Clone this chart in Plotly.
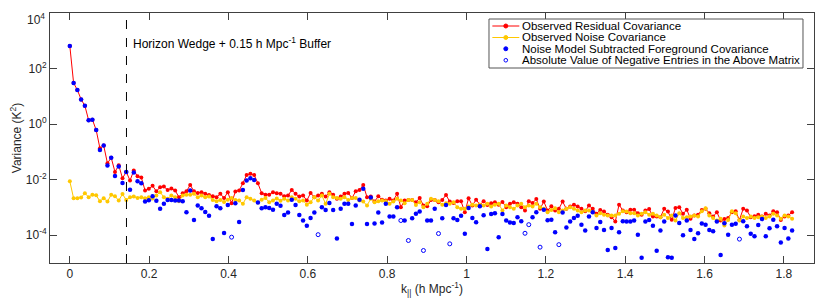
import plotly.graph_objects as go

# ---- data (stored as log10 of variance in K^2) ----
K_MAX = 1.8208
K_WEDGE = 0.1428

residual_log10 = [
    2.81, 1.48, 1.23, 0.89, 0.66, 0.14, 0.16, -0.21, -0.87, -0.77,
    -1.41, -1.21, -1.72, -1.48, -1.95, -1.72, -2.03, -1.67, -1.88, -1.92,
    -2.39, -2.33, -2.22, -2.42, -2.27, -2.25, -2.37, -2.32, -2.39, -2.63,
    -2.49, -2.42, -2.19, -2.42,
    -2.48, -2.45, -2.51, -2.55, -2.60, -2.63, -2.51, -2.66, -2.45, -2.85,
    -2.43, -2.39, -2.13, -1.83, -1.79, -1.83, -2.13, -2.49, -2.54, -2.54,
    -2.45, -2.49, -2.51, -2.60, -2.57, -2.37, -2.51, -2.61, -2.57, -2.75,
    -2.48, -2.63, -2.57, -2.51, -2.61, -2.45, -2.54, -2.69, -2.61, -2.51,
    -2.48, -2.66,
    -2.42, -2.37, -2.19, -2.63, -2.61, -2.79, -2.60, -2.72, -2.75, -2.69,
    -2.75, -2.51, -2.99, -2.75, -2.73, -2.73, -2.81, -2.66, -2.93, -2.96,
    -2.73, -2.73, -2.81, -2.73, -2.55, -2.79, -2.84, -2.78, -2.78, -3.17,
    -2.67, -2.93, -2.72, -2.90, -2.78, -2.91, -2.85, -2.81, -2.90, -2.80,
    -2.99, -2.87,
    -2.81, -2.87, -2.99, -3.11, -2.78, -2.84, -2.70, -3.05, -2.79,
    -3.11, -2.96, -3.11, -3.05, -2.79, -3.05, -2.97, -2.90, -2.97, -3.05,
    -3.14, -2.93, -3.05, -3.23, -3.09, -3.15, -3.26, -3.35, -3.51, -2.90,
    -3.11, -3.17, -3.08, -3.08, -3.21, -3.26, -3.11, -3.06, -3.33, -3.33,
    -3.35, -3.05,
    -3.15, -3.44, -3.02, -2.99, -3.23, -3.08, -3.41, -3.29, -3.26, -3.09,
    -3.05, -3.21, -3.33, -3.17, -3.47, -3.42, -3.38, -3.17, -3.14, -3.45,
    -3.05, -3.11, -3.35, -3.32, -3.26, -3.33, -3.23, -3.29, -3.14, -3.17,
    -3.45, -3.33, -3.29, -3.17,
]

noise_log10 = [
    -2.06, -2.67, -2.67, -2.64, -2.49, -2.63, -2.54, -2.56, -2.78, -2.67,
    -2.79, -2.54, -2.60, -2.75, -2.52, -2.73, -2.63, -2.61, -2.66, -2.63,
    -2.67, -2.63, -2.68, -2.57, -2.45, -2.63, -2.69, -2.57, -2.63, -2.78,
    -2.57, -2.54, -2.54, -2.51,
    -2.63, -2.57, -2.63, -2.61, -2.73, -2.78, -2.73, -2.80, -2.72, -2.66,
    -2.73, -2.75, -2.87, -2.63, -2.69, -2.75, -2.82, -2.72, -2.66, -2.81,
    -2.75, -2.68, -2.76, -2.69, -2.75, -2.63, -2.69, -2.78, -2.75, -2.90,
    -2.81, -2.63, -2.75, -2.57, -2.87, -2.51, -2.63, -2.66, -2.69, -2.63,
    -2.73, -2.66,
    -2.66, -2.75, -2.79, -2.93, -2.69, -2.81, -2.78, -2.75, -2.78, -2.87,
    -2.79, -2.69, -2.75, -2.85, -2.73, -2.73, -2.91, -2.81, -2.99, -2.87,
    -2.69, -2.73, -2.78, -2.90, -2.85, -2.87, -2.81, -2.99, -3.05, -3.05,
    -2.97, -2.90, -2.93, -2.90, -2.93, -2.87, -2.97, -2.90, -2.87, -3.11,
    -2.93, -2.99,
    -3.05, -2.93, -2.87, -2.99, -2.93, -2.97, -2.87, -2.99, -3.05,
    -3.17, -3.09, -3.03, -3.17, -3.11, -3.05, -2.99, -3.05, -3.11, -3.17,
    -3.11, -3.11, -3.17, -3.29, -3.21, -3.26, -3.29, -3.29, -3.29, -3.23,
    -3.14, -3.15, -3.21, -3.21, -3.29, -3.23, -3.17, -3.26, -3.23, -3.29,
    -3.35, -3.26,
    -3.38, -3.29, -3.47, -3.21, -3.38, -3.35, -3.33, -3.29, -3.33, -3.14,
    -3.03, -3.29, -3.38, -3.47, -3.41, -3.65, -3.45, -3.14, -3.21, -3.47,
    -3.33, -3.38, -3.33, -3.38, -3.35, -3.33, -3.38, -3.33, -3.23, -3.29,
    -3.41, -3.29, -3.33, -3.41,
]

# absolute value of the noise-subtracted foreground covariance
foreground_abs_log10 = [
    2.81, 1.48, 1.23, 0.89, 0.66, 0.14, 0.16, -0.21, -0.93, -0.77,
    -1.49, -1.21, -1.87, -1.53, -2.12, -1.72, -2.36, -1.74, -2.06, -2.13,
    -2.79, -2.74, -2.60, -2.76, -3.05, -2.87, -2.73, -2.73, -2.75, -2.75,
    -2.78, -3.17, -2.39, -3.45,
    -2.93, -3.03, -3.16, -3.30, -4.14, -2.96, -3.03, -3.92, -2.91, -4.07,
    -2.85, -3.52, -2.37, -2.03, -1.95, -2.01, -2.82, -3.03, -2.99, -3.02,
    -3.08, -2.87, -2.94, -3.27, -3.18, -2.72, -2.91, -3.27, -3.47, -3.66,
    -3.38, -3.18, -3.98, -2.99, -3.09, -2.84, -3.09, -4.12, -3.05, -2.87,
    -2.87, -3.60,
    -2.93, -2.72, -2.33, -3.60, -2.64, -3.58, -3.18, -3.54, -2.87, -3.33,
    -3.33, -2.99, -3.47, -3.47, -4.19, -3.39, -3.23, -3.15, -4.55, -3.47,
    -3.47, -3.05, -3.94, -3.39, -2.91, -4.31, -3.39, -3.45, -3.30, -3.95,
    -3.02, -3.38, -3.53, -2.96, -3.28, -4.50, -3.24, -3.21, -4.07, -3.24,
    -3.47, -3.54,
    -3.56, -3.35, -3.50, -3.93, -3.62, -3.35, -3.17, -4.43, -3.08,
    -3.46, -3.44, -3.89, -4.34, -3.18, -3.72, -3.51, -3.38, -3.30, -3.62,
    -3.83, -3.33, -3.17, -3.74, -3.52, -3.81, -4.53, -3.74, -4.46, -3.89,
    -3.50, -3.51, -3.51, -3.47, -3.98, -4.81, -3.51, -3.45, -3.66, -4.56,
    -3.83, -3.51,
    -4.79, -4.81, -3.29, -3.56, -4.00, -3.47, -3.81, -4.14, -3.93, -3.58,
    -3.62, -3.81, -3.86, -3.51, -4.71, -3.57, -3.98, -3.62, -3.59, -4.14,
    -3.50, -3.68, -3.95, -4.04, -3.63, -3.42, -4.04, -3.75, -3.44, -3.68,
    -4.26, -3.74, -4.12, -3.83,
]

# bins whose foreground covariance entry is negative (drawn as open circles)
negative_idx = [43, 66, 88, 90, 94, 98, 101, 121, 122, 125, 130, 178]

series_names = [
    "Observed Residual Covariance",
    "Observed Noise Covariance",
    "Noise Model Subtracted Foreground Covariance",
    "Absolute Value of Negative Entries in the Above Matrix",
]

N = len(residual_log10)
assert len(noise_log10) == N and len(foreground_abs_log10) == N, (
    len(residual_log10), len(noise_log10), len(foreground_abs_log10))

k_par = [K_MAX * i / (N - 1) for i in range(N)]
residual = [10 ** v for v in residual_log10]
noise = [10 ** v for v in noise_log10]
fg_pos = [None if i in negative_idx else 10 ** v for i, v in enumerate(foreground_abs_log10)]
fg_neg = [10 ** v if i in negative_idx else None for i, v in enumerate(foreground_abs_log10)]

x_ticks = [0, 0.2, 0.4, 0.6, 0.8, 1.0, 1.2, 1.4, 1.6, 1.8]
x_ticktext = ["0", "0.2", "0.4", "0.6", "0.8", "1", "1.2", "1.4", "1.6", "1.8"]
y_ticks = [1e-4, 1e-2, 1e0, 1e2, 1e4]
y_ticktext = ["10<sup>-4</sup>", "10<sup>-2</sup>", "10<sup>0</sup>", "10<sup>2</sup>", "10<sup>4</sup>"]

RED = "#FF0000"
YELLOW = "#FFC800"
BLUE = "#0000FF"
AXIS = "#404040"
TXT = "#262626"
FONT = "Liberation Sans, Arial, sans-serif"

fig = go.Figure()
fig.add_trace(go.Scatter(
    x=k_par, y=residual, mode="lines+markers", name=series_names[0],
    line=dict(color=RED, width=1), marker=dict(color=RED, size=4)))
fig.add_trace(go.Scatter(
    x=k_par, y=noise, mode="lines+markers", name=series_names[1],
    line=dict(color=YELLOW, width=1), marker=dict(color=YELLOW, size=4)))
fig.add_trace(go.Scatter(
    x=k_par, y=fg_pos, mode="markers", name=series_names[2],
    marker=dict(color=BLUE, size=4.5)))
fig.add_trace(go.Scatter(
    x=k_par, y=fg_neg, mode="markers", name=series_names[3],
    marker=dict(color=BLUE, size=4, symbol="circle-open", line=dict(width=1, color=BLUE))))

# horizon wedge marker
fig.add_shape(type="line", xref="x", yref="paper", x0=K_WEDGE, x1=K_WEDGE, y0=0, y1=1,
              line=dict(color="black", width=1, dash="dash"))
fig.add_annotation(xref="x", yref="y", x=K_WEDGE + 0.011, y=2.92, xanchor="left", yanchor="middle",
                   text="Horizon Wedge + 0.15 h Mpc<sup>-1</sup> Buffer", showarrow=False,
                   font=dict(size=12, color="black", family=FONT))

# ---- compact MATLAB-style legend box (paper coordinates) ----
LEG_X0, LEG_X1, LEG_Y0, LEG_Y1 = 0.5746, 0.9856, 0.780, 0.976
row_y = [0.948, 0.902, 0.857, 0.811]
glyph_x0, glyph_x1, glyph_c, text_x = 0.579, 0.6143, 0.5966, 0.6150
fig.add_shape(type="rect", xref="paper", yref="paper", x0=LEG_X0, x1=LEG_X1, y0=LEG_Y0, y1=LEG_Y1,
              line=dict(color="#555555", width=1), fillcolor="white", layer="above")
for r, (col, has_line, filled) in enumerate([(RED, True, True), (YELLOW, True, True),
                                             (BLUE, False, True), (BLUE, False, False)]):
    if has_line:
        fig.add_shape(type="line", xref="paper", yref="paper", x0=glyph_x0, x1=glyph_x1,
                      y0=row_y[r], y1=row_y[r], line=dict(color=col, width=1), layer="above")
    rad = 2 if filled else 1.8
    fig.add_shape(type="circle", xref="paper", yref="paper", xsizemode="pixel", ysizemode="pixel",
                  xanchor=glyph_c, yanchor=row_y[r], x0=-rad, x1=rad, y0=-rad, y1=rad,
                  fillcolor=col if filled else "rgba(0,0,0,0)", line=dict(color=col, width=1),
                  layer="above")
    fig.add_annotation(xref="paper", yref="paper", x=text_x, y=row_y[r], xanchor="left",
                       yanchor="middle", text=series_names[r], showarrow=False,
                       font=dict(size=11.5, color="black", family=FONT))

# the topmost y tick label would be clipped at the page edge; draw it slightly lower (as MATLAB does)
y_tick_labels_axis = y_ticktext[:-1] + [""]
fig.add_annotation(xref="paper", yref="paper", x=0, y=1, xanchor="right", yanchor="top",
                   xshift=-3, yshift=4, text=y_ticktext[-1], showarrow=False,
                   font=dict(size=12, color=TXT, family=FONT))

# the page body adds an 8 px margin, so the figure is sized/offset to compensate
fig.update_layout(
    width=822, height=297,
    margin=dict(l=42, r=16, t=5, b=42),
    paper_bgcolor="white", plot_bgcolor="white",
    font=dict(family=FONT, size=12, color=TXT),
    showlegend=False,
    xaxis=dict(range=[-0.05, 1.876], tickvals=x_ticks, ticktext=x_ticktext, automargin=False,
               ticklabeloverflow="allow",
               ticks="inside", ticklen=7, tickcolor=AXIS, showline=True, linecolor=AXIS,
               mirror="ticks", showgrid=False, zeroline=False,
               tickfont=dict(size=12, color=TXT),
               title=dict(text="k<sub>||</sub> (h Mpc<sup>-1</sup>)", standoff=4,
                          font=dict(size=12, color=TXT))),
    yaxis=dict(type="log", range=[-5, 4], tickvals=y_ticks, ticktext=y_tick_labels_axis,
               automargin=False, ticklabeloverflow="allow",
               ticks="inside", ticklen=7, tickcolor=AXIS, showline=True, linecolor=AXIS,
               mirror="ticks", showgrid=False, zeroline=False,
               tickfont=dict(size=12, color=TXT),
               title=dict(text="Variance (K<sup>2</sup>)", standoff=4,
                          font=dict(size=12, color=TXT))),
)

fig.write_html("out.html")
